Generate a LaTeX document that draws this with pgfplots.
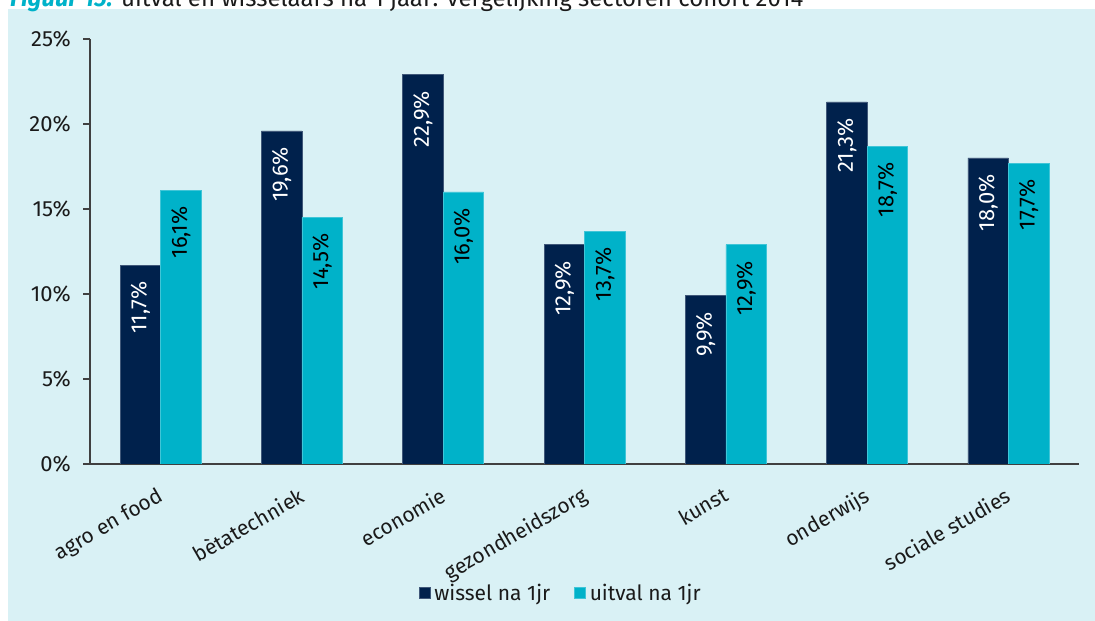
\documentclass[border=0pt]{standalone}
\usepackage{fontspec}
\setmainfont{Fira Sans}
\usepackage{pgfplots}
\pgfplotsset{compat=1.18}

\definecolor{panel}{HTML}{D9F1F5}
\definecolor{navybar}{HTML}{00214C}
\definecolor{cyanbar}{HTML}{00B2C9}
\definecolor{axisgray}{HTML}{404040}
\definecolor{txt}{HTML}{1A1A1A}

\begin{document}
\begin{tikzpicture}
\useasboundingbox (0,0) rectangle (1095pt,621pt);
\fill[panel] (8pt,0) rectangle (1095pt,612pt);
\node[anchor=base west, inner sep=0pt, font=\fontsize{24}{28}\selectfont, text=txt]
  at (10pt,614.5pt) {\textcolor{cyanbar}{\textbf{\textit{Figuur 15:}}} uitval en wisselaars na 1 jaar: vergelijking sectoren cohort 2014};

\begin{axis}[
    at={(90pt,157pt)}, anchor=south west,
    scale only axis, width=989pt, height=425pt,
    ybar=0pt, bar width=40.5pt,
    xmin=-0.5, xmax=6.5, ymin=0, ymax=25,
    axis lines=left,
    axis line style={-, axisgray, line width=1.2pt},
    tick align=outside,
    major tick length=7pt,
    tick style={axisgray, line width=1.2pt},
    xtick={0,...,6},
    xticklabels={agro en food, bètatechniek, economie, gezondheidszorg, kunst, onderwijs, sociale studies},
    major x tick style={draw=none},
    extra x ticks={-0.5,0.5,1.5,2.5,3.5,4.5,5.5,6.5},
    extra x tick labels={},
    extra x tick style={major x tick style={axisgray, line width=1.2pt}},
    xticklabel style={xshift=-4pt, yshift=-15pt, rotate=30, anchor=north east, inner sep=0pt,
        font=\fontsize{21}{25}\selectfont, text=txt},
    ytick={0,5,10,15,20,25},
    yticklabel={\pgfmathprintnumber{\tick}\%},
    yticklabel style={anchor=east, inner sep=0pt, xshift=-12pt, font=\fontsize{22}{26}\selectfont, text=txt},
    /pgf/number format/assume math mode=true,
    nodes near coords={\pgfmathprintnumber[fixed, fixed zerofill, precision=1, use comma]{\pgfplotspointmeta}\%},
    every node near coord/.append style={font=\fontsize{22}{26}\selectfont, inner sep=0pt,
        anchor=east, yshift=-16pt, rotate=90},
    legend style={at={(axis description cs:0.477,-0.3035)}, anchor=center,
        draw=none, fill=none, font=\fontsize{21}{25}\selectfont, text=txt,
        legend columns=2,
        /tikz/every even column/.append style={column sep=20pt},
        nodes={inner xsep=4pt}},
    legend image code/.code={\fill[#1] (0pt,-5.5pt) rectangle (11pt,5.5pt);},
]

\addplot[fill=navybar, draw=navybar!75!white, line width=0.5pt,
    every node near coord/.append style={text=white}]
    coordinates {(0,11.7) (1,19.6) (2,22.9) (3,12.9) (4,9.9) (5,21.3) (6,18.0)};

\addplot[fill=cyanbar, draw=cyanbar!75!white, line width=0.5pt,
    every node near coord/.append style={text=black}]
    coordinates {(0,16.1) (1,14.5) (2,16.0) (3,13.7) (4,12.9) (5,18.7) (6,17.7)};

\legend{wissel na 1jr, uitval na 1jr}
\end{axis}
\end{tikzpicture}
\end{document}
